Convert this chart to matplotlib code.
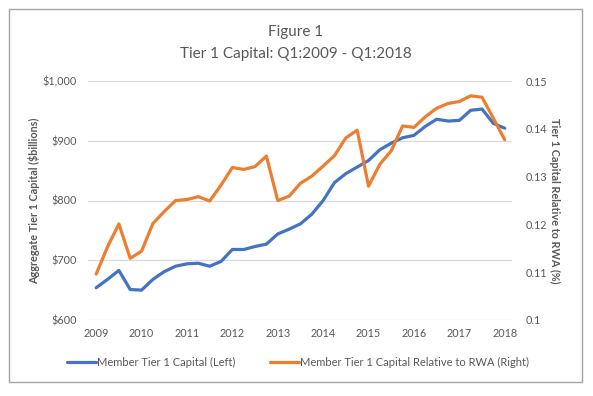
import matplotlib
matplotlib.use("Agg")
import matplotlib.pyplot as plt
from matplotlib.patches import Rectangle
from matplotlib.ticker import FuncFormatter
import numpy as np

plt.rcParams['font.family'] = ['Lato', 'DejaVu Sans']

# Quarterly data Q1:2009 - Q1:2018
start_year = 2009
tier1_capital = [654, 668, 683, 651, 650, 668, 681, 690, 694, 695, 690, 698,
                 718, 718, 723, 727, 744, 752, 761, 777, 800, 830, 845, 856,
                 867, 885, 896, 905, 909, 924, 936, 933, 934, 951, 953, 929, 921]
tier1_rwa = [0.1096, 0.1153, 0.1201, 0.1129, 0.1144, 0.1202, 0.1227, 0.1250,
             0.1252, 0.1258, 0.1249, 0.1282, 0.1319, 0.1315, 0.1321, 0.1343,
             0.1250, 0.1259, 0.1286, 0.1301, 0.1322, 0.1344, 0.1381, 0.1397,
             0.1280, 0.1326, 0.1354, 0.1406, 0.1403, 0.1425, 0.1443, 0.1453,
             0.1457, 0.1469, 0.1466, 0.1422, 0.1377]
year_ticks = list(range(2009, 2019))
left_ticks = [600, 700, 800, 900, 1000]
right_ticks = [0.10, 0.11, 0.12, 0.13, 0.14, 0.15]
series_names = ["Member Tier 1 Capital (Left)",
                "Member Tier 1 Capital Relative to RWA (Right)"]

x = start_year + np.arange(len(tier1_capital)) / 4.0

W, H = 593, 396
fig = plt.figure(figsize=(W / 100, H / 100), dpi=100)
ax = fig.add_axes([88 / W, 1 - 320 / H, (512 - 88) / W, (320 - 81) / H])
ax2 = ax.twinx()

blue = '#4472C4'
orange = '#ED7D31'
gray_text = '#595959'

l1, = ax.plot(x, tier1_capital, color=blue, lw=2.3, solid_capstyle='round',
              solid_joinstyle='round', zorder=3)
l2, = ax2.plot(x, tier1_rwa, color=orange, lw=2.3, solid_capstyle='round',
               solid_joinstyle='round', zorder=3)

ax.set_xlim(2008.82, 2018.16)
ax.set_ylim(600, 1000)
ax2.set_ylim(0.10, 0.15)
ax.set_yticks(left_ticks)
ax.yaxis.set_major_formatter(FuncFormatter(lambda v, p: f"${v:,.0f}"))
ax2.set_yticks(right_ticks)
ax2.yaxis.set_major_formatter(FuncFormatter(lambda v, p: f"{v:.2f}".rstrip('0')))
ax.set_xticks(year_ticks)
ax.set_xticklabels([str(y) for y in year_ticks])

ax.grid(axis='y', color='#d9d9d9', lw=0.9, zorder=0)
ax.set_axisbelow(True)
for a in (ax, ax2):
    for s in a.spines.values():
        s.set_visible(False)
    a.tick_params(length=0, labelsize=7.8, labelcolor=gray_text)
ax.tick_params(axis='y', pad=8)
ax.tick_params(axis='x', pad=6)
ax2.tick_params(axis='y', pad=10)

ax.set_ylabel("Aggregate Tier 1 Capital ($billions)", fontsize=7.8,
              fontweight='bold', color=gray_text, labelpad=2)
ax2.set_ylabel("Tier 1 Capital Relative to RWA (%)", fontsize=7.8,
               fontweight='bold', color=gray_text, rotation=270, labelpad=9)

fig.text(296 / W, 1 - 32 / H, "Figure 1", ha='center', va='center',
         fontsize=11, color=gray_text)
fig.text(296 / W, 1 - 54 / H, "Tier 1 Capital: Q1:2009 - Q1:2018", ha='center',
         va='center', fontsize=11, color=gray_text)

fig.legend([l1, l2], series_names, loc='center', bbox_to_anchor=(298 / W, 1 - 362 / H),
           ncol=2, frameon=False, fontsize=8, handlelength=2.6,
           handletextpad=0.05, columnspacing=3.2, labelcolor=gray_text)

fig.patches.append(Rectangle((9 / W, 1 - 382 / H), (582 - 9) / W, (382 - 9) / H,
                             transform=fig.transFigure, fill=False,
                             edgecolor='#a6a6a6', lw=1.0))

fig.savefig("out.png", dpi=100)
